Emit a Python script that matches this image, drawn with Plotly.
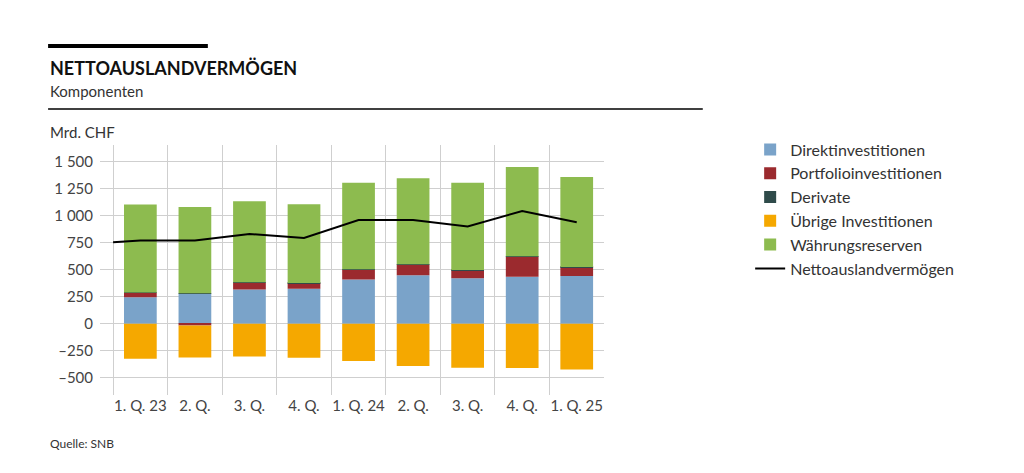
import plotly.graph_objects as go

quarters = ["1. Q. 23", "2. Q.", "3. Q.", "4. Q.", "1. Q. 24", "2. Q.", "3. Q.", "4. Q.", "1. Q. 25"]
direkt = [247, 281, 318, 324, 410, 451, 423, 435, 442]
portfolio = [40, -15, 65, 53, 93, 98, 74, 188, 83]
derivate = [2, 2, 2, 2, 2, 2, 2, 2, 2]
uebrige = [-325, -297, -303, -315, -346, -392, -407, -410, -423]
waehrung = [816, 800, 751, 729, 801, 798, 809, 829, 834]
netto_x = [-0.5, 0, 1, 2, 3, 4, 5, 6, 7, 8]
netto = [756, 772, 772, 833, 796, 962, 962, 901, 1045, 942]
ytick_vals = [-500, -250, 0, 250, 500, 750, 1000, 1250, 1500]
ytick_text = ["–500", "–250", "0", "250", "500", "750", "1 000", "1 250", "1 500"]

xs = list(range(len(quarters)))
fig = go.Figure()
series = [("Direktinvestitionen", direkt, "#7aa3c9"),
          ("Portfolioinvestitionen", portfolio, "#9b2a2e"),
          ("Derivate", derivate, "#2f4b4a"),
          ("Übrige Investitionen", uebrige, "#f5a800"),
          ("Währungsreserven", waehrung, "#8dbb4f")]
for name, vals, col in series:
    fig.add_bar(x=xs, y=vals, name=name, marker=dict(color=col, line=dict(width=0)), width=0.6)
fig.add_scatter(x=netto_x, y=netto, name="Nettoauslandvermögen", mode="lines",
                line=dict(color="black", width=2))

fig.update_layout(
    width=1024, height=473, barmode="relative",
    margin=dict(l=92, r=428, t=137, b=86, autoexpand=False),
    paper_bgcolor="white", plot_bgcolor="white",
    font=dict(family="Lato, sans-serif", color="#333", size=15),
    legend=dict(x=1.29, y=1.05, xanchor="left", yanchor="top", font=dict(size=16, color="#333"),
                tracegroupgap=0, itemwidth=30, bgcolor="rgba(0,0,0,0)"),
    showlegend=True,
    xaxis=dict(range=[-0.74, 8.5], tickvals=xs, ticktext=quarters, showgrid=False, zeroline=False,
               tickfont=dict(size=15, color="#444"), ticks="",
               minor=dict(tickvals=[i - 0.5 for i in range(10)], showgrid=True, gridcolor="#cfcfcf", gridwidth=1)),
    yaxis=dict(range=[-660, 1657], tickvals=ytick_vals, ticktext=ytick_text, showgrid=True,
               gridcolor="#cfcfcf", zeroline=False, tickfont=dict(size=15, color="#444"), ticklabelstandoff=6),
)
fig.add_shape(type="line", xref="paper", yref="paper", x0=-0.103, x1=0.214, y0=1.396, y1=1.396,
              line=dict(color="black", width=4))
fig.add_shape(type="line", xref="paper", yref="paper", x0=-0.103, x1=1.196, y0=1.144, y1=1.144,
              line=dict(color="black", width=1.5))
fig.add_annotation(text="<b>NETTOAUSLANDVERMÖGEN</b>", xref="paper", yref="paper", x=-0.103, y=1.308,
                   xanchor="left", yanchor="middle", showarrow=False, font=dict(size=18, color="#111"))
fig.add_annotation(text="Komponenten", xref="paper", yref="paper", x=-0.103, y=1.215,
                   xanchor="left", yanchor="middle", showarrow=False, font=dict(size=15, color="#333"))
fig.add_annotation(text="Mrd. CHF", xref="paper", yref="paper", x=-0.103, y=1.05,
                   xanchor="left", yanchor="middle", showarrow=False, font=dict(size=15, color="#333"))
fig.add_annotation(text="Quelle: SNB", xref="paper", yref="paper", x=-0.103, y=-0.192,
                   xanchor="left", yanchor="middle", showarrow=False, font=dict(size=12, color="#333"))
fig.write_html("out.html")
